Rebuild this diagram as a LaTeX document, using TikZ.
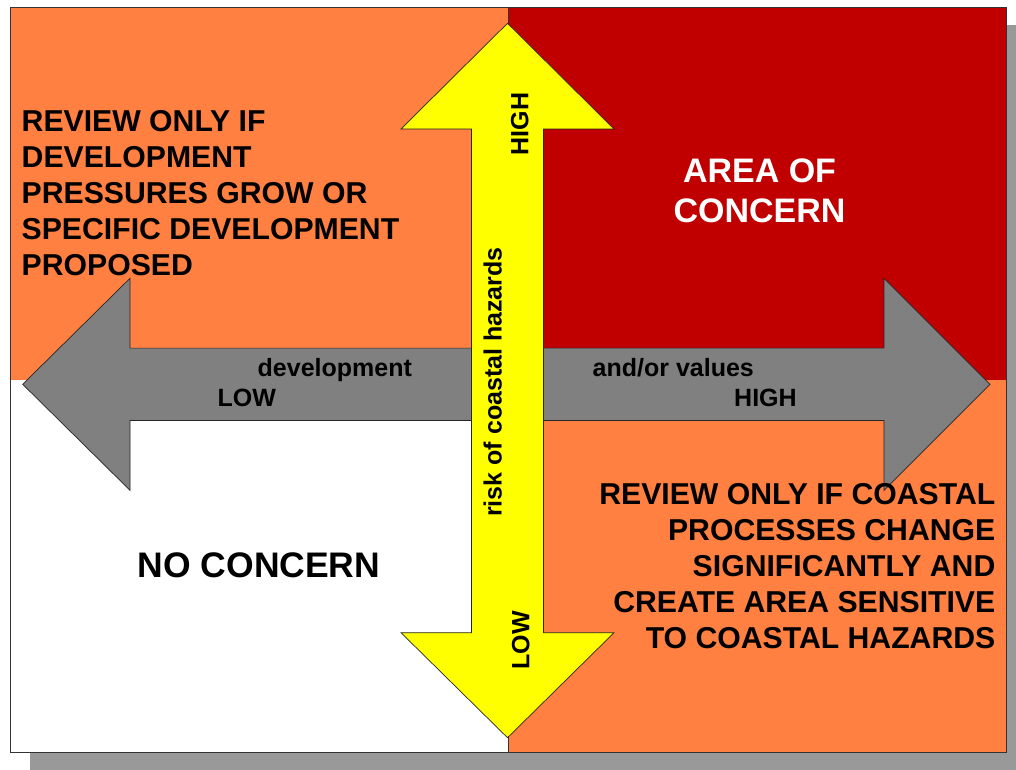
\documentclass[tikz,border=0pt]{standalone}
\usepackage{fontspec}
\setmainfont{Liberation Sans}
\definecolor{shadowgray}{HTML}{999999}
\definecolor{quadorange}{HTML}{FF8040}
\definecolor{concernred}{HTML}{C00000}
\definecolor{axisgray}{HTML}{808080}
\definecolor{riskyellow}{HTML}{FFFF00}
\begin{document}
\begin{tikzpicture}[x=1pt,y=-1pt,
  frame/.style={draw=black!80,line width=0.9pt},
  arrowshape/.style={draw=black!85,line width=0.7pt,line join=miter},
  bigtext/.style={inner sep=0pt,font=\fontsize{30.2}{36}\selectfont\bfseries},
  titletext/.style={inner sep=0pt,font=\fontsize{34}{40.6}\selectfont\bfseries},
  axistext/.style={inner sep=0pt,font=\fontsize{25}{28}\selectfont\bfseries}]
\useasboundingbox (0,0) rectangle (1016,770);
% drop shadow behind the chart
\fill[shadowgray] (30,25) rectangle (1026,770);
% the four quadrants
\fill[quadorange] (10,7) rectangle (508,379.5);
\fill[concernred] (508,7) rectangle (1006,379.5);
\fill[white] (10,379.5) rectangle (508,752);
\fill[quadorange] (508,379.5) rectangle (1006,752);
\draw[frame] (508,7) -- (508,752);
\draw[frame] (10,7) rectangle (1006,752);
% horizontal double arrow: development and/or values
\filldraw[arrowshape,fill=axisgray]
  (22.7,384.3) -- (130,278.3) -- (130,348.1) -- (884,348.1) -- (884,278.3)
  -- (990,384.3) -- (884,490.3) -- (884,420.5) -- (130,420.5) -- (130,490.3) -- cycle;
% vertical double arrow: risk of coastal hazards
\filldraw[arrowshape,fill=riskyellow]
  (507.5,23.3) -- (614,129) -- (543.5,129) -- (543.5,632.7) -- (614,632.7)
  -- (507.5,737.7) -- (401,632.7) -- (471.5,632.7) -- (471.5,129) -- (401,129) -- cycle;
% quadrant texts
\node[bigtext,anchor=north west,align=left] (topleft) at (21.5,110)
  {REVIEW ONLY IF\\DEVELOPMENT\\PRESSURES GROW OR\\SPECIFIC DEVELOPMENT\\PROPOSED};
\node[titletext,text=white,anchor=north,align=center] (topright) at (759.5,158.3)
  {AREA OF\\CONCERN};
\node[titletext,anchor=base,font=\fontsize{35.5}{40}\selectfont\bfseries] (bottomleft) at (259,577) {NO CONCERN};
\node[bigtext,anchor=north east,align=right] (bottomright) at (995.5,483.3)
  {REVIEW ONLY IF COASTAL\\PROCESSES CHANGE\\SIGNIFICANTLY AND\\CREATE AREA SENSITIVE\\TO COASTAL HAZARDS};
% axis labels
\node[axistext,anchor=base west] (devlabel) at (257.5,376.7) {development};
\node[axistext,anchor=base west] (vallabel) at (592.5,376.7) {and/or values};
\node[axistext,anchor=base west] (xlow) at (217.5,406) {LOW};
\node[axistext,anchor=base west] (xhigh) at (734,406) {HIGH};
\node[axistext,rotate=90,anchor=base] (risklabel) at (501.7,382) {risk of coastal hazards};
\node[axistext,rotate=90,anchor=base] (yhigh) at (528.3,124) {HIGH};
\node[axistext,rotate=90,anchor=base] (ylow) at (529.3,640.5) {LOW};
\end{tikzpicture}
\end{document}
